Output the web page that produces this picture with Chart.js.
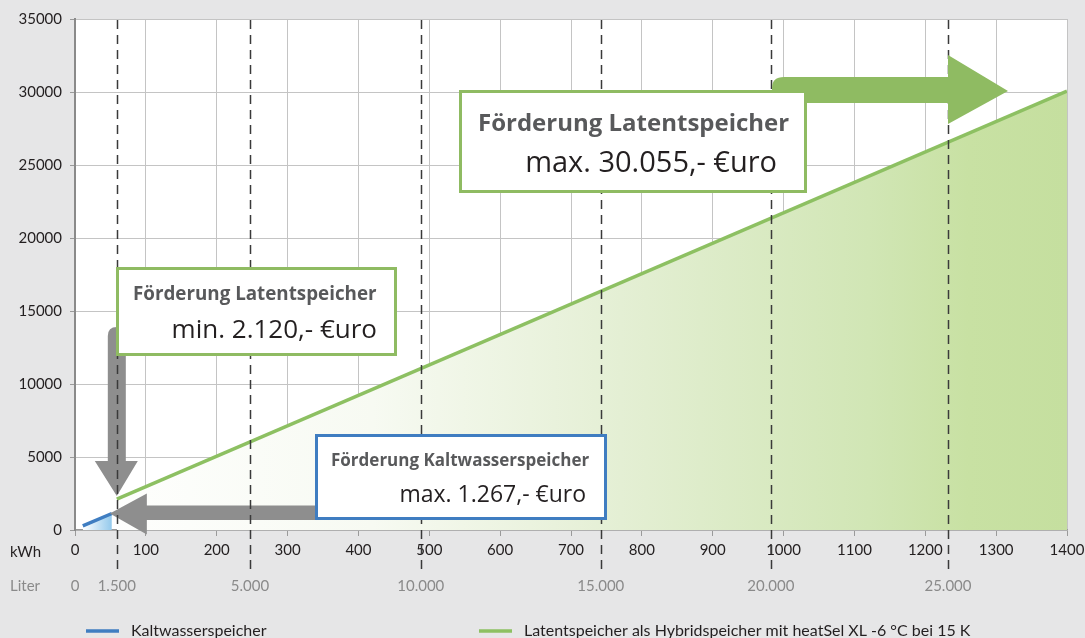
<!DOCTYPE html>
<html><head><meta charset="utf-8">
<script src="https://cdn.jsdelivr.net/npm/chart.js@4"></script>
<style>html,body{margin:0;padding:0;background:#e6e6e7;overflow:hidden}</style>
</head><body>
<canvas id="c" width="1085" height="638"></canvas>
<script>
// ---- data ----
const kwhLatent = [59, 1400];
const euroLatent = [2120, 30055];
const kwhKalt = [11, 52];
const euroKalt = [280, 1130];
const literLabels = ['0', '1.500', '5.000', '10.000', '15.000', '20.000', '25.000'];
const literKwh = [0, 59, 247, 488, 742, 982, 1232];
const seriesNames = ['Kaltwasserspeicher', 'Latentspeicher als Hybridspeicher mit heatSel XL -6 °C bei 15 K'];
const boxTitles = ['Förderung Latentspeicher', 'Förderung Latentspeicher', 'Förderung Kaltwasserspeicher'];
const boxValues = ['max. 30.055,- €uro', 'min. 2.120,- €uro', 'max. 1.267,- €uro'];

const BG = '#e6e6e7';
const GREEN = '#8dc062';
const GREEN_DARK = '#8fbb62';
const BLUE = '#3f7dc1';
const GRAY_ARROW = '#8e8e8e';
const TICK_FONT = {family: 'Lato', size: 15};

function greenFill(ctx) {
  const a = ctx.chart.chartArea;
  if (!a) return 'rgba(0,0,0,0)';
  const g = ctx.chart.ctx.createLinearGradient(a.left, 0, a.right, 0);
  g.addColorStop(0, '#ffffff');
  g.addColorStop(0.3, '#f7faf2');
  g.addColorStop(0.55, '#e4efd4');
  g.addColorStop(0.8, '#d1e6b5');
  g.addColorStop(0.9, '#c8e1a3');
  g.addColorStop(1, '#c5df9f');
  return g;
}
function blueFill(ctx) {
  const c = ctx.chart;
  const a = c.chartArea;
  if (!a) return 'rgba(0,0,0,0)';
  const xs = c.scales.x;
  const g = c.ctx.createLinearGradient(xs.getPixelForValue(kwhKalt[0]), 0, xs.getPixelForValue(kwhKalt[kwhKalt.length-1]), 0);
  g.addColorStop(0, '#ffffff');
  g.addColorStop(1, '#93c9ec');
  return g;
}

function drawBox(ctx, x, y, w, h, color, title, tSize, tx, ty, value, vSize, vx, vy) {
  ctx.save();
  ctx.fillStyle = '#ffffff';
  ctx.fillRect(x, y, w, h);
  ctx.lineWidth = 3;
  ctx.strokeStyle = color;
  ctx.strokeRect(x + 1.5, y + 1.5, w - 3, h - 3);
  ctx.textBaseline = 'alphabetic';
  ctx.fillStyle = '#58595b';
  ctx.textAlign = 'left';
  ctx.font = 'bold ' + tSize + 'px "Open Sans"';
  ctx.fillText(title, tx, ty);
  ctx.fillStyle = '#231f20';
  ctx.textAlign = 'right';
  ctx.font = vSize + 'px "Open Sans"';
  ctx.fillText(value, vx, vy);
  ctx.restore();
}

const overlay = {
  id: 'overlay',
  beforeDraw(chart) {
    const ctx = chart.ctx, a = chart.chartArea;
    ctx.save();
    ctx.fillStyle = BG;
    ctx.fillRect(0, 0, chart.width, chart.height);
    ctx.fillStyle = '#ffffff';
    ctx.fillRect(a.left, a.top, a.right - a.left, a.bottom - a.top);
    ctx.restore();
  },
  afterDatasetsDraw(chart) {
    const ctx = chart.ctx, a = chart.chartArea;
    const xs = chart.scales.x, ys = chart.scales.y;
    ctx.save();
    // gray vertical arrow (down to min Latent point)
    const vx = xs.getPixelForValue(literKwh[1]);
    const vtip = ys.getPixelForValue(euroLatent[0]) - 3;
    ctx.fillStyle = GRAY_ARROW;
    ctx.beginPath();
    ctx.moveTo(vx - 9, vtip - 35);
    ctx.lineTo(vx - 9, 336);
    ctx.quadraticCurveTo(vx - 9, 327, vx, 327);
    ctx.lineTo(vx + 9, 327);
    ctx.lineTo(vx + 9, vtip - 35);
    ctx.lineTo(vx + 21, vtip - 35);
    ctx.lineTo(vx, vtip);
    ctx.lineTo(vx - 22, vtip - 35);
    ctx.closePath();
    ctx.fill();
    // gray horizontal arrow (left to Kaltwasser point)
    const htipX = xs.getPixelForValue(kwhKalt[1]) - 2;
    const hy = ys.getPixelForValue(euroKalt[1]);
    ctx.beginPath();
    ctx.moveTo(htipX, hy);
    ctx.lineTo(htipX + 37, hy - 20);
    ctx.lineTo(htipX + 37, hy - 8);
    ctx.lineTo(330, hy - 8);
    ctx.lineTo(330, hy + 6.5);
    ctx.lineTo(htipX + 37, hy + 6.5);
    ctx.lineTo(htipX + 37, hy + 21);
    ctx.closePath();
    ctx.fill();
    // dashed liter lines
    ctx.strokeStyle = '#3a3a3a';
    ctx.lineWidth = 1.5;
    ctx.setLineDash([9, 6]);
    for (let i = 1; i < literKwh.length; i++) {
      const x = Math.round(xs.getPixelForValue(literKwh[i])) + 0.5;
      ctx.beginPath();
      ctx.moveTo(x, a.top + 1);
      ctx.lineTo(x, 573);
      ctx.stroke();
    }
    ctx.setLineDash([]);
    // green arrow (right to max)
    ctx.fillStyle = GREEN_DARK;
    ctx.beginPath();
    ctx.moveTo(772, 103);
    ctx.lineTo(772, 88);
    ctx.quadraticCurveTo(772, 77, 784, 77);
    ctx.lineTo(948, 77);
    ctx.lineTo(948, 55);
    ctx.lineTo(1008, 91);
    ctx.lineTo(948, 124);
    ctx.lineTo(948, 103);
    ctx.closePath();
    ctx.fill();
    // boxes
    drawBox(ctx, 459, 90, 348, 103, GREEN_DARK, boxTitles[0], 24, 478, 131, boxValues[0], 29, 777, 172);
    drawBox(ctx, 116, 267, 281, 89, GREEN_DARK, boxTitles[1], 18.8, 133, 300, boxValues[1], 26, 377, 338);
    drawBox(ctx, 315, 434, 292, 86, BLUE, boxTitles[2], 17, 331, 466, boxValues[2], 23, 586, 502);
    // axis side labels
    ctx.textBaseline = 'middle';
    ctx.font = '15px Lato';
    ctx.textAlign = 'left';
    ctx.fillStyle = '#231f20';
    ctx.fillText('kWh', 10, 552);
    ctx.fillStyle = '#8a8a8a';
    ctx.fillText('Liter', 10, 586);
    ctx.textAlign = 'center';
    for (let i = 0; i < literKwh.length; i++) {
      ctx.fillText(literLabels[i], xs.getPixelForValue(literKwh[i]), 586);
    }
    // legend
    const ds = chart.data.datasets;
    const legendX = [86, 479];
    const textX = [131, 524];
    ctx.textAlign = 'left';
    ctx.font = '16px Lato';
    for (let i = 0; i < ds.length; i++) {
      ctx.strokeStyle = ds[i].borderColor;
      ctx.lineWidth = 3.5;
      ctx.beginPath();
      ctx.moveTo(legendX[i], 631);
      ctx.lineTo(legendX[i] + 33, 631);
      ctx.stroke();
      ctx.fillStyle = '#231f20';
      ctx.fillText(ds[i].label, textX[i], 631);
    }
    ctx.restore();
  }
};

new Chart(document.getElementById('c'), {
  type: 'scatter',
  data: {
    datasets: [
      {
        label: seriesNames[0],
        data: kwhKalt.map((x, i) => ({x, y: euroKalt[i]})),
        showLine: true,
        borderColor: BLUE,
        borderWidth: 3.5,
        pointRadius: 0,
        fill: 'origin',
        backgroundColor: blueFill,
        tension: 0
      },
      {
        label: seriesNames[1],
        data: kwhLatent.map((x, i) => ({x, y: euroLatent[i]})),
        showLine: true,
        borderColor: GREEN,
        borderWidth: 3.5,
        pointRadius: 0,
        fill: 'origin',
        backgroundColor: greenFill,
        tension: 0
      }
    ]
  },
  options: {
    responsive: false,
    devicePixelRatio: 1,
    animation: false,
    layout: {padding: {left: 0, right: 18, top: 19, bottom: 0}},
    plugins: {legend: {display: false}, tooltip: {enabled: false}},
    scales: {
      x: {
        type: 'linear', min: 0, max: 1400,
        ticks: {stepSize: 100, color: '#231f20', font: TICK_FONT, padding: 5, maxRotation: 0, callback: v => String(v)},
        grid: {color: '#c4c4c4', lineWidth: 1, tickLength: 6, tickColor: '#9a9a9a'},
        border: {color: '#9a9a9a', width: 1.5},
        afterFit: s => { s.height = 108; s.paddingRight = 0; s.paddingLeft = 0; }
      },
      y: {
        min: 0, max: 35000,
        ticks: {stepSize: 5000, color: '#231f20', font: TICK_FONT, padding: 8, callback: v => String(v)},
        grid: {color: '#c4c4c4', lineWidth: 1, tickLength: 5, tickColor: '#9a9a9a'},
        border: {color: '#8a8a8a', width: 2},
        afterFit: s => { s.width = 75; s.paddingTop = 0; s.paddingBottom = 0; }
      }
    }
  },
  plugins: [overlay]
});
</script>
</body></html>
